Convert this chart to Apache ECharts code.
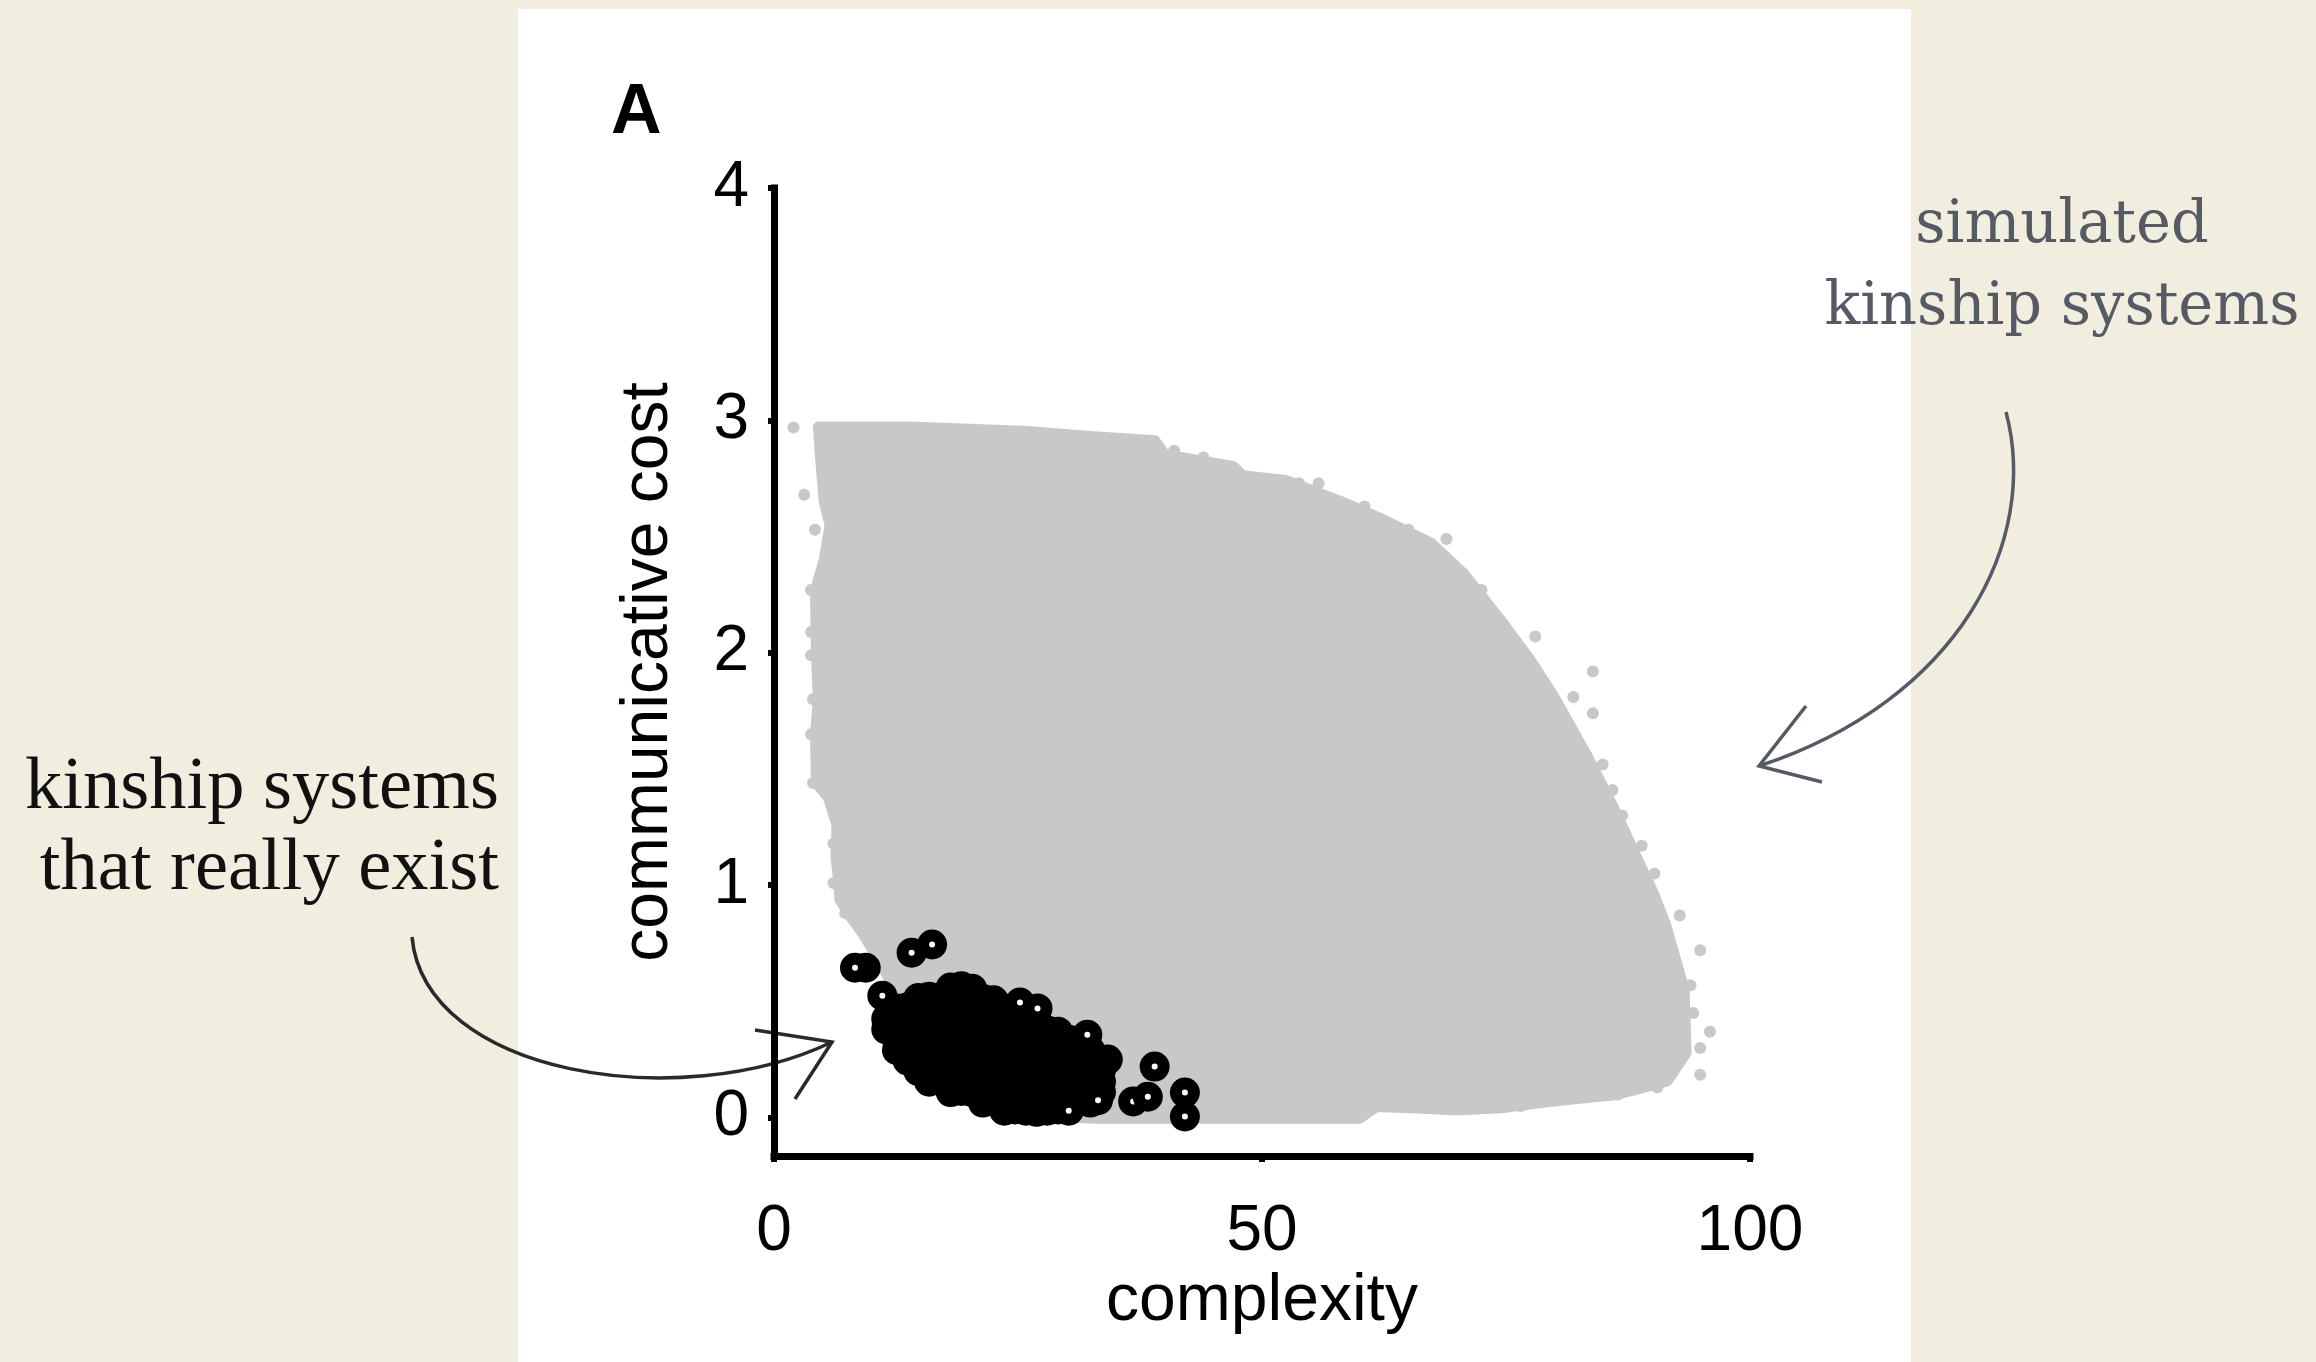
<!DOCTYPE html>
<html>
<head>
<meta charset="utf-8">
<title>communicative cost vs complexity</title>
<script src="https://cdn.jsdelivr.net/npm/echarts@6/dist/echarts.min.js"></script>
<style>
  html, body { margin: 0; padding: 0; background: #f1eee0; overflow: hidden; }
  #panel { position: absolute; left: 518px; top: 9px; width: 1393px; height: 1353px; background: #fff; }
  #chart { position: absolute; left: 0; top: 0; width: 2316px; height: 1362px; }
</style>
</head>
<body>
<div id="panel"></div>
<div id="chart"></div>
<script>
// tick values
const yTicks = [0, 1, 2, 3, 4];

// outline of the dense cloud of simulated systems (centres of the edge dots)
const cloudEdge = [
  [4.6, 2.97], [14, 2.97], [26, 2.95], [32, 2.93], [39, 2.91], [40, 2.85], [47, 2.80],
  [48, 2.76], [52.4, 2.74], [58, 2.65], [62.4, 2.57], [67.3, 2.47], [70.6, 2.34],
  [74.2, 2.15], [77.4, 1.97], [80, 1.80], [83.2, 1.56], [86, 1.33], [88.2, 1.13],
  [90, 0.97], [91.3, 0.83], [93.2, 0.55], [93.4, 0.28], [91.5, 0.16], [88, 0.12],
  [86, 0.10], [83.5, 0.09], [79.2, 0.07], [74.5, 0.045], [70, 0.035], [65.4, 0.045],
  [61.7, 0.05], [60, 0.0], [45, 0.0], [33, 0.0], [27, 0.01], [22, 0.1], [17, 0.3],
  [12.5, 0.55], [10.5, 0.7], [9.2, 0.79], [8.0, 0.86], [6.8, 0.94], [6.6, 1.05],
  [6.4, 1.12], [6.5, 1.26], [5.6, 1.38], [4.4, 1.44], [4.3, 1.65], [4.6, 1.80],
  [4.4, 1.99], [4.3, 2.27], [5.2, 2.40], [5.8, 2.55], [5.2, 2.65], [4.8, 2.85]
];

// loose simulated systems sitting on or outside the edge of the dense cloud
const simulatedStray = [
  [2.0, 2.97], [3.1, 2.68], [4.2, 2.53], [3.8, 2.27], [3.8, 2.09], [3.8, 1.99],
  [4.0, 1.80], [3.8, 1.65], [4.0, 1.44], [6.1, 1.18], [6.1, 1.01], [7.3, 0.88],
  [41, 2.87], [44, 2.84], [53.8, 2.73], [55.8, 2.73], [60.5, 2.63], [65, 2.53],
  [68.9, 2.49], [72.5, 2.27], [78, 2.07], [83.9, 1.92], [81.9, 1.81], [83.9, 1.74],
  [84.9, 1.52], [85.9, 1.41], [86.9, 1.30], [88.9, 1.17], [90.2, 1.05], [92.8, 0.87],
  [94.9, 0.72], [93.9, 0.57], [95.9, 0.37], [94.9, 0.30], [94.9, 0.185], [94.2, 0.45],
  [90.5, 0.13], [86.5, 0.1], [81, 0.08], [76.5, 0.05]
];

// attested kinship systems
const realSystems = [
  [9.4, 0.645], [34.2, 0.25], [36.8, 0.07],
  [18.1, 0.56], [19.2, 0.565], [20.3, 0.555],
  [14.8, 0.515], [15.9, 0.52], [17.0, 0.515], [18.1, 0.51], [19.2, 0.52], [20.3, 0.515], [21.4, 0.51],
  [22.5, 0.505],
  [12.6, 0.47], [13.7, 0.475], [14.8, 0.47], [15.9, 0.465], [17.0, 0.47], [18.1, 0.475], [19.2, 0.47],
  [20.3, 0.465], [21.4, 0.47], [22.5, 0.475], [23.6, 0.47], [24.6, 0.46],
  [11.5, 0.425], [12.6, 0.43], [13.7, 0.42], [14.8, 0.425], [15.9, 0.43], [17.0, 0.425], [18.1, 0.42],
  [19.2, 0.425], [20.3, 0.43], [21.4, 0.425], [22.5, 0.42], [23.6, 0.425], [24.7, 0.43], [25.8, 0.425],
  [26.9, 0.42],
  [11.5, 0.38], [12.6, 0.385], [13.7, 0.38], [14.8, 0.375], [15.9, 0.38], [17.0, 0.385], [18.1, 0.38],
  [19.2, 0.375], [20.3, 0.38], [21.4, 0.385], [22.5, 0.38], [23.6, 0.375], [24.7, 0.38], [25.8, 0.385],
  [26.9, 0.38], [28.0, 0.375], [29.1, 0.37],
  [12.6, 0.335], [13.7, 0.34], [14.8, 0.335], [15.9, 0.33], [17.0, 0.335], [18.1, 0.34], [19.2, 0.335],
  [20.3, 0.33], [21.4, 0.335], [22.5, 0.34], [23.6, 0.335], [24.7, 0.33], [25.8, 0.335], [26.9, 0.34],
  [28.0, 0.335], [29.1, 0.33], [30.2, 0.335],
  [12.6, 0.29], [13.7, 0.295], [14.8, 0.29], [15.9, 0.285], [17.0, 0.29], [18.1, 0.295], [19.2, 0.29],
  [20.3, 0.285], [21.4, 0.29], [22.5, 0.295], [23.6, 0.29], [24.7, 0.285], [25.8, 0.29], [26.9, 0.295],
  [28.0, 0.29], [29.1, 0.285], [30.2, 0.29], [31.3, 0.295], [32.4, 0.29],
  [13.7, 0.245], [14.8, 0.25], [15.9, 0.245], [17.0, 0.24], [18.1, 0.245], [19.2, 0.25], [20.3, 0.245],
  [21.4, 0.24], [22.5, 0.245], [23.6, 0.25], [24.7, 0.245], [25.8, 0.24], [26.9, 0.245], [28.0, 0.25],
  [29.1, 0.245], [30.2, 0.24], [31.3, 0.245], [32.4, 0.25], [33.5, 0.245],
  [14.8, 0.2], [15.9, 0.205], [17.0, 0.2], [18.1, 0.195], [19.2, 0.2], [20.3, 0.205], [21.4, 0.2],
  [22.5, 0.195], [23.6, 0.2], [24.7, 0.205], [25.8, 0.2], [26.9, 0.195], [28.0, 0.2], [29.1, 0.205],
  [30.2, 0.2], [31.3, 0.195], [32.4, 0.2], [33.5, 0.205],
  [15.9, 0.155], [17.0, 0.16], [18.1, 0.155], [19.2, 0.15], [20.3, 0.155], [21.4, 0.16], [22.5, 0.155],
  [23.6, 0.15], [24.7, 0.155], [25.8, 0.16], [26.9, 0.155], [28.0, 0.15], [29.1, 0.155], [30.2, 0.16],
  [31.3, 0.155], [32.4, 0.15], [33.5, 0.155],
  [18.1, 0.11], [19.2, 0.115], [20.3, 0.11], [21.4, 0.105], [22.5, 0.11], [23.6, 0.115], [24.7, 0.11],
  [25.8, 0.105], [26.9, 0.11], [28.0, 0.115], [29.1, 0.11], [30.2, 0.105], [31.3, 0.11], [32.4, 0.115],
  [33.5, 0.11],
  [21.4, 0.065], [22.5, 0.07], [23.6, 0.065], [24.7, 0.06], [25.8, 0.065], [26.9, 0.07], [28.0, 0.065],
  [29.1, 0.06], [30.2, 0.065], [31.3, 0.07], [32.4, 0.065], [33.2, 0.075],
  [23.6, 0.03], [24.7, 0.035], [25.8, 0.03], [26.9, 0.025], [28.0, 0.03], [29.1, 0.035], [30.2, 0.03],
  [8.3, 0.645], [14.1, 0.71], [16.2, 0.745], [11.1, 0.525],
  [25.2, 0.495], [27.0, 0.47], [32.1, 0.357], [39.0, 0.22],
  [38.3, 0.09], [42.1, 0.108], [42.1, 0.005]
];

const axisFont = 'Liberation Sans, Arial, Helvetica, sans-serif';
const serifFont = 'DejaVu Serif, serif';

const chart = echarts.init(document.getElementById('chart'));

const option = {
  backgroundColor: 'transparent',
  animation: false,
  grid: { left: 774, right: 566, top: 188, bottom: 206 },
  xAxis: {
    type: 'value',
    min: 0,
    max: 100,
    interval: 50,
    name: 'complexity',
    nameLocation: 'middle',
    nameGap: 112,
    nameTextStyle: { fontFamily: axisFont, fontSize: 66, color: '#000' },
    axisLine: { onZero: false, lineStyle: { color: '#000', width: 7, cap: 'square' } },
    axisTick: { length: 6, lineStyle: { color: '#000', width: 6 } },
    axisLabel: { margin: 44, fontFamily: axisFont, fontSize: 64, color: '#000' },
    splitLine: { show: false }
  },
  yAxis: {
    type: 'value',
    min: -0.165,
    max: 4,
    name: 'communicative cost',
    nameLocation: 'middle',
    nameGap: 92,
    nameTextStyle: { fontFamily: axisFont, fontSize: 66, color: '#000' },
    axisLine: { onZero: false, lineStyle: { color: '#000', width: 7, cap: 'square' } },
    axisTick: { customValues: yTicks, length: 6, lineStyle: { color: '#000', width: 6 } },
    axisLabel: { customValues: yTicks, margin: 25, fontFamily: axisFont, fontSize: 64, color: '#000' },
    splitLine: { show: false }
  },
  series: [
    {
      // dense cloud of simulated systems
      type: 'custom',
      silent: true,
      z: 1,
      data: [[0, 0]],
      renderItem: function (params, api) {
        const pts = cloudEdge.map(function (p) { return api.coord(p); });
        return {
          type: 'polygon',
          shape: { points: pts },
          style: { fill: '#c8c8c8', stroke: '#c8c8c8', lineWidth: 12, lineJoin: 'round' }
        };
      }
    },
    {
      type: 'scatter',
      silent: true,
      z: 2,
      symbol: 'circle',
      symbolSize: 12,
      itemStyle: { color: '#c8c8c8', opacity: 1 },
      data: simulatedStray
    },
    {
      type: 'scatter',
      silent: true,
      z: 3,
      symbol: 'circle',
      symbolSize: 18,
      itemStyle: { color: '#fff', borderColor: '#000', borderWidth: 12, opacity: 1 },
      data: realSystems
    }
  ],
  graphic: [
    {
      type: 'text',
      x: 611, y: 114,
      style: { text: 'A', fontFamily: axisFont, fontWeight: 'bold', fontSize: 70, fill: '#000', align: 'left', verticalAlign: 'middle' }
    },
    {
      type: 'text',
      x: 2062, y: 268,
      style: {
        text: 'simulated\nkinship systems', fontFamily: serifFont, fontSize: 59, lineHeight: 82,
        fill: '#555a65', align: 'center', verticalAlign: 'middle'
      }
    },
    {
      type: 'text',
      x: 499, y: 829,
      style: {
        text: 'kinship systems\nthat really exist', fontFamily: 'Liberation Serif, serif', fontSize: 74.5, lineHeight: 81,
        fill: '#111', align: 'right', verticalAlign: 'middle'
      }
    },
    {
      type: 'bezierCurve',
      shape: { x1: 2006, y1: 412, cpx1: 2040, cpy1: 540, cpx2: 1960, cpy2: 700, x2: 1759, y2: 766 },
      style: { stroke: '#555a65', lineWidth: 3.5, fill: null }
    },
    {
      type: 'polyline',
      shape: { points: [[1806, 706], [1759, 766], [1822, 782]] },
      style: { stroke: '#555a65', lineWidth: 3.5, fill: null }
    },
    {
      type: 'bezierCurve',
      shape: { x1: 412, y1: 937, cpx1: 425, cpy1: 1075, cpx2: 680, cpy2: 1115, x2: 832, y2: 1042 },
      style: { stroke: '#2a2a2a', lineWidth: 3.5, fill: null }
    },
    {
      type: 'polyline',
      shape: { points: [[755, 1030], [832, 1042], [795, 1099]] },
      style: { stroke: '#2a2a2a', lineWidth: 3.5, fill: null }
    }
  ]
};

chart.setOption(option);
</script>
</body>
</html>
